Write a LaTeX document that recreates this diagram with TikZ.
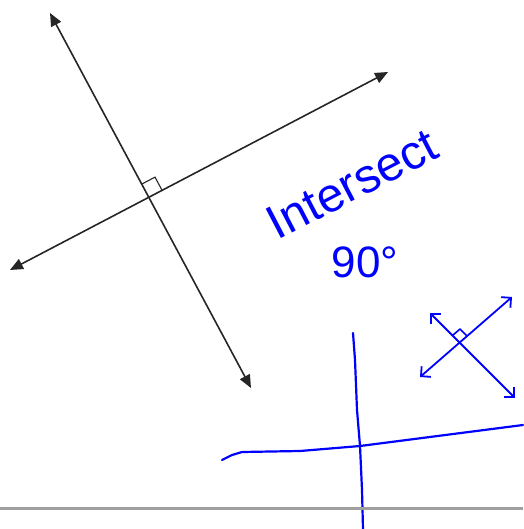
\documentclass[tikz,border=0pt]{standalone}
\usepackage{fontspec}
\setsansfont{Liberation Sans}
\usepackage{tikz}
\usetikzlibrary{arrows.meta,calc}

\begin{document}
\begin{tikzpicture}[x=1pt, y=-1pt,
  ray/.style={line width=1.6pt, black!85, {Triangle[length=13pt,width=11pt]}-{Triangle[length=13pt,width=11pt]}},
  ink/.style={blue, line width=2.2pt, line cap=round, line join=round},
  inkray/.style={ink, {Straight Barb[length=7pt,width=14pt]}-{Straight Barb[length=7pt,width=14pt]}},
  every node/.style={text=blue, font=\sffamily}]
  \useasboundingbox (0,0) rectangle (523,529);
  % printed perpendicular lines
  \coordinate (a1) at (50,13);
  \coordinate (a2) at (251,388);
  \coordinate (b1) at (10,270);
  \coordinate (b2) at (388,72);
  \draw[ray] (a1) -- (a2);
  \draw[ray] (b1) -- (b2);
  \coordinate (m) at (intersection of a1--a2 and b1--b2);
  \coordinate (ma) at ($(m)!15pt!(a1)$);
  \coordinate (mb) at ($(m)!15pt!(b2)$);
  \draw[line width=1.1pt, black!85] (ma) -- ($(ma)+(mb)-(m)$) -- (mb);
  % handwritten notes
  \node (word) [rotate=27.5, font=\sffamily\fontsize{48}{48}\selectfont] at (352,184) {Intersect};
  \node (deg) [font=\sffamily\fontsize{44}{44}\selectfont] at (365,262) {90°};
  % small sketch
  \coordinate (p1) at (430,313);
  \coordinate (p2) at (515,398);
  \coordinate (q1) at (420,377);
  \coordinate (q2) at (512,297);
  \draw[inkray, line width=1.8pt] (p1) -- (p2);
  \draw[inkray, line width=1.8pt] (q1) -- (q2);
  \coordinate (n) at (intersection of p1--p2 and q1--q2);
  \coordinate (na) at ($(n)!10pt!(p1)$);
  \coordinate (nb) at ($(n)!10pt!(q2)$);
  \draw[ink, line width=1.6pt] (na) -- ($(na)+(nb)-(n)$) -- (nb);
  % big cross
  \coordinate (c) at (360,446);
  \draw[ink] (222,460) -- (232,455) -- (242,452) -- (300,451) -- (c) -- (523,425);
  \draw[ink] (353,333) -- (355,360) -- (357,410) -- (c) -- (362,490) -- (363,529);
  % bottom rule
  \draw[line width=3pt, gray!75] (0,508) -- (523,508);
\end{tikzpicture}
\end{document}
